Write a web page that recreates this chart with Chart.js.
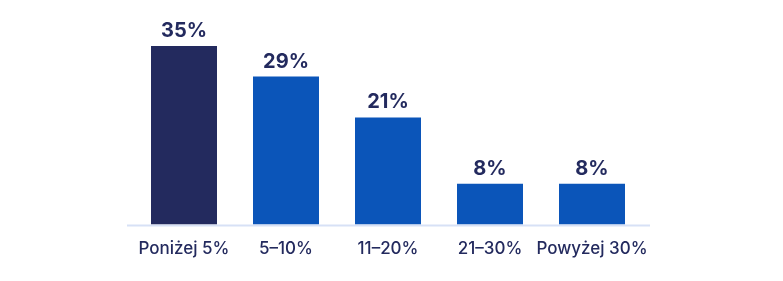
<!DOCTYPE html>
<html>
<head>
<meta charset="utf-8">
<script src="https://cdn.jsdelivr.net/npm/chart.js@4"></script>
<style>
  html, body { margin:0; padding:0; background:#fff; }
  #wrap { width:783px; height:281px; }
</style>
</head>
<body>
<div id="wrap"><canvas id="mycanvas"></canvas></div>
<script>
// values
var categories = ['Poniżej 5%', '5–10%', '11–20%', '21–30%', 'Powyżej 30%'];
var shares = [35, 29, 21, 8, 8];
var valueLabels = ['35%', '29%', '21%', '8%', '8%'];

var navy = '#232a5e';
var blue = '#0b55b9';

var barColors = [];
for (var i = 0; i < shares.length; i++) {
  barColors.push(i == 0 ? navy : blue);
}

// axis line is a bit wider than the plot, so draw it by hand
var axisLine = {
  id: 'axisLine',
  beforeDatasetsDraw: function(chart) {
    var ctx = chart.ctx, a = chart.chartArea;
    ctx.save();
    ctx.strokeStyle = '#d7e1f6';
    ctx.lineWidth = 2;
    ctx.beginPath();
    ctx.moveTo(a.left - 6, a.bottom + 1);
    ctx.lineTo(a.right + 7, a.bottom + 1);
    ctx.stroke();
    ctx.restore();
  }
};

var topLabels = {
  id: 'topLabels',
  afterDatasetsDraw: function(chart) {
    var ctx = chart.ctx;
    var meta = chart.getDatasetMeta(0);
    ctx.save();
    ctx.fillStyle = navy;
    ctx.font = 'bold 20px Inter, Lato, sans-serif';
    ctx.textAlign = 'center';
    ctx.textBaseline = 'alphabetic';
    for (var i = 0; i < meta.data.length; i++) {
      var bar = meta.data[i];
      ctx.fillText(valueLabels[i], bar.x, bar.y - 9);
    }
    ctx.restore();
  }
};

var chartdata = {
  labels: categories,
  datasets: [{
    data: shares,
    backgroundColor: barColors,
    borderWidth: 0,
    barPercentage: 1,
    categoryPercentage: 0.647
  }]
};

var ctx = document.getElementById('mycanvas');
var barGraph = new Chart(ctx, {
  type: 'bar',
  data: chartdata,
  plugins: [axisLine, topLabels],
  options: {
    maintainAspectRatio: false,
    responsive: true,
    animation: false,
    layout: { padding: { top: 46, left: 133, right: 140, bottom: 8 } },
    plugins: { legend: { display: false }, tooltip: { enabled: false } },
    scales: {
      x: {
        grid: { display: false, drawTicks: false },
        border: { display: false },
        ticks: {
          color: navy,
          padding: 14,
          font: { family: 'Inter, Lato, sans-serif', size: 17, weight: 500 },
          maxRotation: 0,
          autoSkip: false
        }
      },
      y: {
        display: false,
        min: 0,
        max: 35
      }
    }
  }
});
</script>
</body>
</html>
